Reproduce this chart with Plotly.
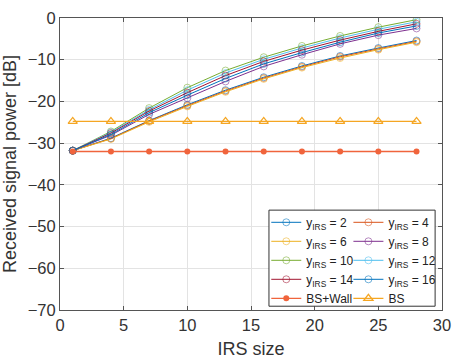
import plotly.graph_objects as go

x_irs = [1, 4, 7, 10, 13, 16, 19, 22, 25, 28]

y_irs2 = [-31.8, -28.8, -24.6, -20.8, -17.3, -14.2, -11.5, -9.1, -7.2, -5.4]
y_irs4 = [-31.8, -28.9, -24.7, -21.0, -17.5, -14.4, -11.7, -9.3, -7.4, -5.6]
y_irs6 = [-31.8, -29.0, -24.9, -21.2, -17.7, -14.6, -11.9, -9.6, -7.6, -5.8]
y_irs8 = [-31.8, -28.1, -23.1, -19.2, -15.2, -11.6, -8.8, -6.2, -4.1, -2.5]
y_irs10 = [-31.8, -27.2, -21.6, -16.7, -12.6, -9.4, -6.7, -4.3, -2.2, -0.4]
y_irs12 = [-31.8, -27.4, -22.0, -17.3, -13.2, -9.9, -7.2, -4.8, -2.7, -0.9]
y_irs14 = [-31.8, -27.6, -22.3, -17.9, -13.8, -10.4, -7.7, -5.3, -3.2, -1.4]
y_irs16 = [-31.8, -27.9, -22.7, -18.5, -14.5, -11.0, -8.3, -5.8, -3.6, -1.9]
bs_wall = [-32.0] * 10
bs_only = [-24.8] * 10

series = [
    ("2", y_irs2, "#0072BD", "legend"),
    ("4", y_irs4, "#D95319", "legend2"),
    ("6", y_irs6, "#EDB120", "legend"),
    ("8", y_irs8, "#7E2F8E", "legend2"),
    ("10", y_irs10, "#77AC30", "legend"),
    ("12", y_irs12, "#4DBEEE", "legend2"),
    ("14", y_irs14, "#A2142F", "legend"),
    ("16", y_irs16, "#0072BD", "legend2"),
]

fig = go.Figure()
for lab, ys, col, lg in series:
    fig.add_trace(go.Scatter(
        x=x_irs, y=ys, mode="lines+markers", name=f"y<sub>IRS</sub> = {lab}",
        line=dict(color=col, width=1),
        marker=dict(symbol="circle-open", size=7, color=col, opacity=0.55,
                    line=dict(width=1, color=col)),
        legend=lg,
    ))

fig.add_trace(go.Scatter(
    x=x_irs, y=bs_wall, mode="lines+markers", name="BS+Wall",
    line=dict(color="#F0643C", width=1.3),
    marker=dict(symbol="circle", size=6, color="#F0643C"),
    legend="legend",
))
fig.add_trace(go.Scatter(
    x=x_irs, y=bs_only, mode="lines+markers", name="BS",
    line=dict(color="#F5A623", width=1.3),
    marker=dict(symbol="triangle-up-open", size=8, color="#F5A623",
                line=dict(width=1.3, color="#F5A623")),
    legend="legend2",
))

axis_common = dict(
    showgrid=True, gridcolor="#e3e3e3", gridwidth=1,
    showline=True, linecolor="#555555", linewidth=1, mirror="ticks",
    ticks="inside", ticklen=4, tickcolor="#555555",
    zeroline=False,
    tickfont=dict(family="Liberation Sans, Arial", size=16.5, color="#333333"),
)

fig.update_xaxes(range=[0, 30], dtick=5,
                 title=dict(text="IRS size", standoff=9,
                            font=dict(family="Liberation Sans, Arial", size=18, color="#333333")),
                 **axis_common)
fig.update_yaxes(range=[-70, 0], dtick=10,
                 title=dict(text="Received signal power [dB]", standoff=6,
                            font=dict(family="Liberation Sans, Arial", size=18, color="#333333")),
                 **axis_common)

leg_common = dict(
    bgcolor="rgba(0,0,0,0)", borderwidth=0,
    font=dict(family="Liberation Sans, Arial", size=12, color="#222222"),
    itemwidth=30, tracegroupgap=0,
    xanchor="left", yanchor="top", traceorder="normal",
)

fig.update_layout(
    width=460, height=364,
    margin=dict(l=58, r=9, t=14, b=49),
    plot_bgcolor="white", paper_bgcolor="white",
    showlegend=True,
    legend=dict(x=0.54, y=0.35, **leg_common),
    legend2=dict(x=0.755, y=0.35, **leg_common),
    shapes=[dict(type="rect", xref="paper", yref="paper",
                 x0=0.547, x1=0.982, y0=0.013, y1=0.342,
                 line=dict(color="#333333", width=1), fillcolor="white", layer="above")],
)

fig.write_html("out.html")
